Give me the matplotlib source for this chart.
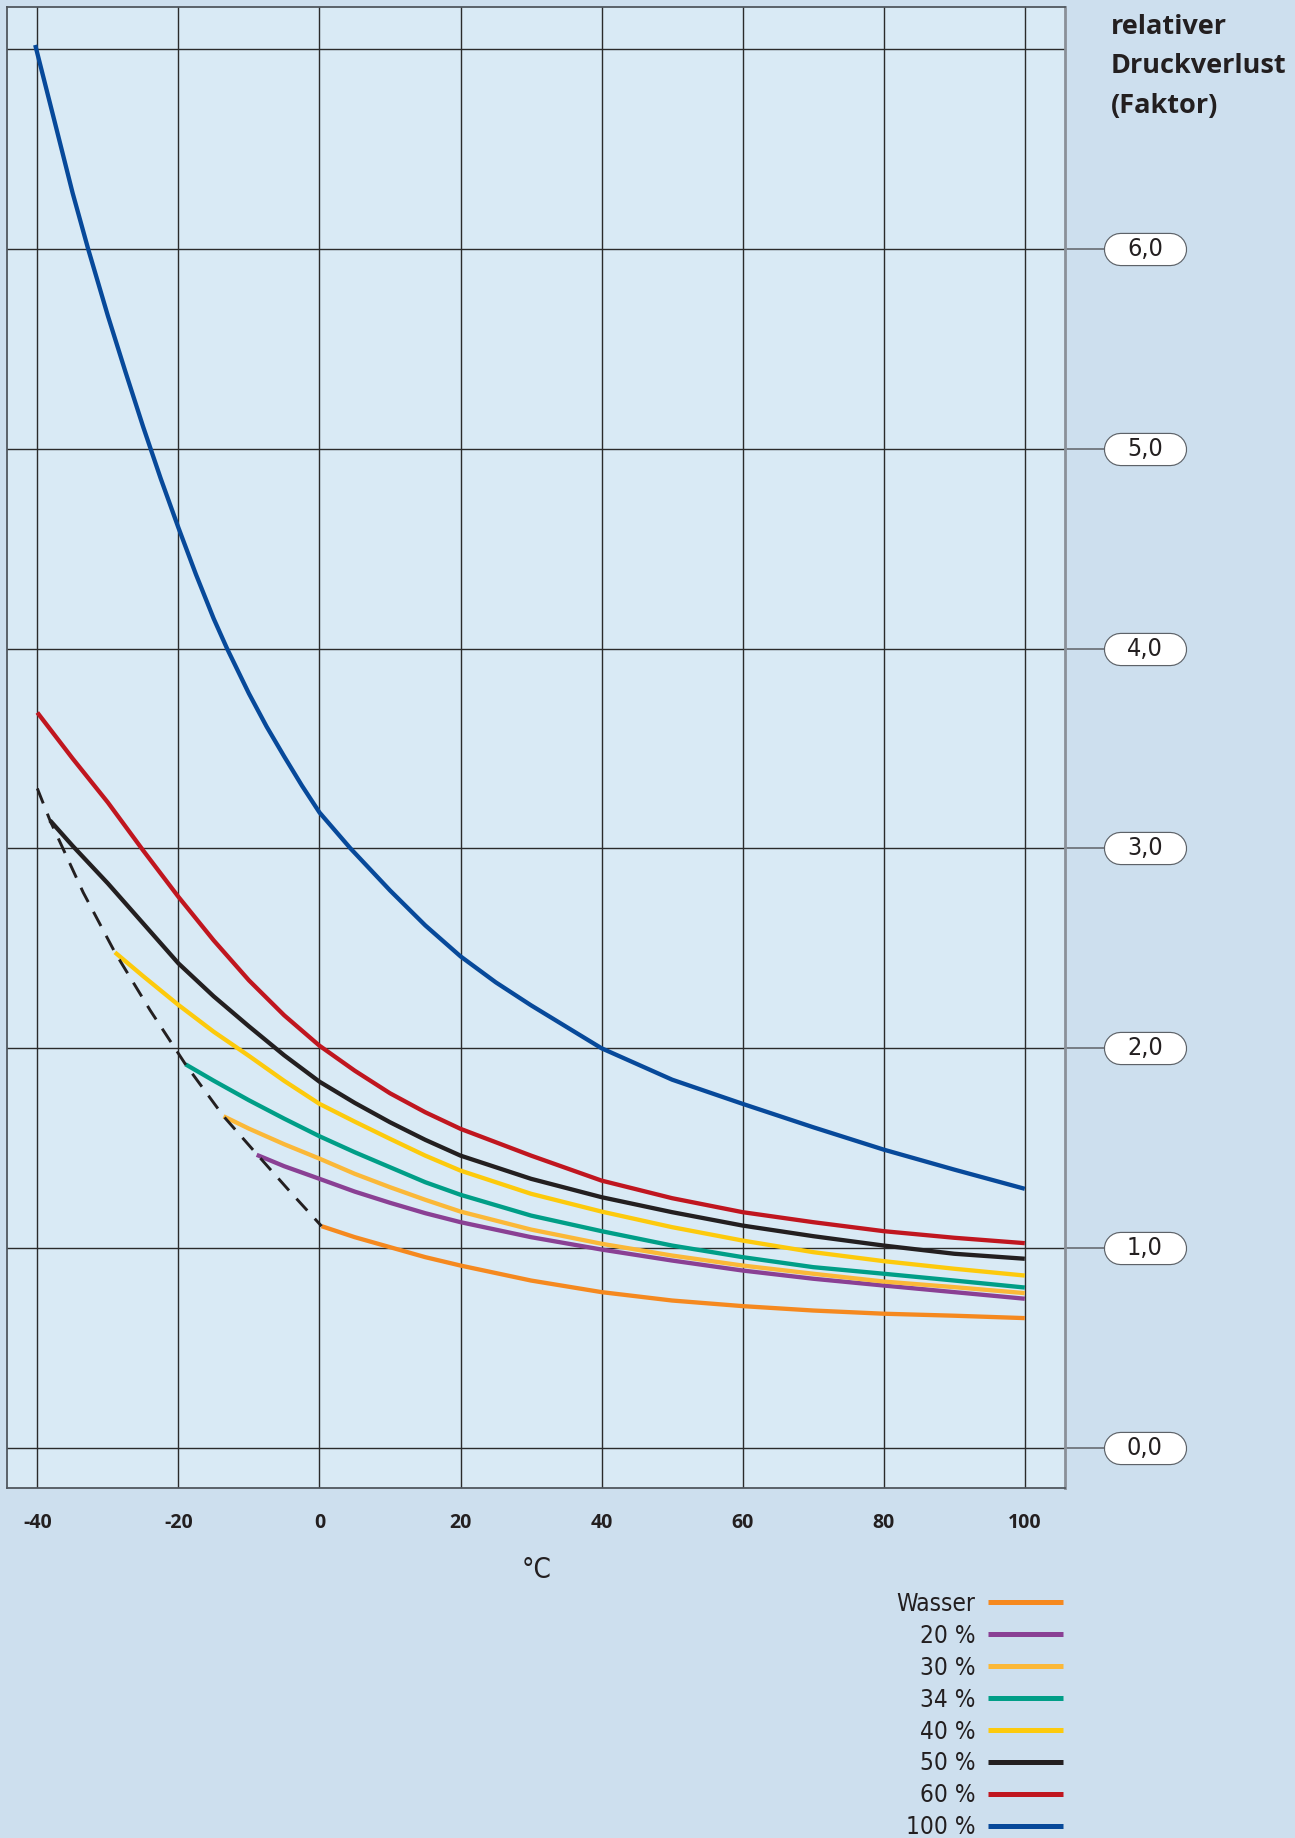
import matplotlib
matplotlib.use("Agg")
import matplotlib.pyplot as plt
import matplotlib.patheffects as pe
from matplotlib import font_manager
from matplotlib.transforms import blended_transform_factory

# --- data (temperature in degC, relative pressure loss factor) ---
x_wasser = [0.3, 5, 10, 15, 20, 30, 40, 50, 60, 70, 80, 90, 100]
y_wasser = [1.11, 1.055, 1.005, 0.955, 0.913, 0.838, 0.78, 0.738, 0.71, 0.688, 0.672, 0.662, 0.65]

x_20 = [-8.9, -5, 0, 5, 10, 15, 20, 30, 40, 50, 60, 70, 80, 90, 100]
y_20 = [1.467, 1.41, 1.347, 1.283, 1.227, 1.175, 1.13, 1.055, 0.993, 0.938, 0.888, 0.847, 0.813, 0.78, 0.747]

x_30 = [-13.6, -10, -5, 0, 5, 10, 15, 20, 30, 40, 50, 60, 70, 80, 90, 100]
y_30 = [1.66, 1.598, 1.52, 1.448, 1.372, 1.305, 1.242, 1.183, 1.093, 1.022, 0.963, 0.913, 0.872, 0.833, 0.805, 0.775]

x_34 = [-19, -15, -10, -5, 0, 5, 10, 15, 20, 30, 40, 50, 60, 70, 80, 90, 100]
y_34 = [1.92, 1.838, 1.74, 1.648, 1.56, 1.48, 1.405, 1.33, 1.267, 1.163, 1.085, 1.013, 0.955, 0.905, 0.872, 0.838, 0.803]

x_40 = [-29, -25, -20, -15, -10, -5, 0, 5, 10, 15, 20, 30, 40, 50, 60, 70, 80, 90, 100]
y_40 = [2.48, 2.361, 2.217, 2.083, 1.962, 1.837, 1.722, 1.633, 1.547, 1.463, 1.388, 1.272, 1.183, 1.105, 1.038, 0.98, 0.935, 0.897, 0.863]

x_50 = [-38.2, -35, -30, -25, -20, -15, -10, -5, 0, 5, 10, 15, 20, 30, 40, 50, 60, 70, 80, 90, 100]
y_50 = [3.14, 3.013, 2.825, 2.625, 2.425, 2.26, 2.11, 1.965, 1.833, 1.727, 1.63, 1.542, 1.463, 1.347, 1.255, 1.18, 1.113, 1.06, 1.013, 0.972, 0.947]

x_60 = [-40, -35, -30, -25, -20, -15, -10, -5, 0, 5, 10, 15, 20, 30, 40, 50, 60, 70, 80, 90, 100]
y_60 = [3.68, 3.45, 3.23, 2.99, 2.758, 2.54, 2.34, 2.165, 2.013, 1.888, 1.775, 1.68, 1.597, 1.463, 1.338, 1.25, 1.18, 1.13, 1.085, 1.052, 1.025]

x_100 = [-40.3, -37.5, -35, -32.8, -30, -27.5, -25, -22.5, -20, -17.5, -15, -13.1, -10, -7.5, -5, -2.5, 0, 4.4,
         10, 15, 20, 25, 30, 40, 50, 60, 70, 80, 90, 100]
y_100 = [7.02, 6.63, 6.28, 6.0, 5.665, 5.384, 5.11, 4.85, 4.605, 4.37, 4.15, 4.0, 3.775, 3.61, 3.46, 3.315, 3.18, 3.0,
         2.79, 2.615, 2.46, 2.33, 2.215, 2.0, 1.843, 1.722, 1.605, 1.493, 1.393, 1.297]

# freezing limit (dashed)
x_frost = [-40, -38.2, -33.5, -29, -24, -19, -13.6, -8.8, -4.1, 0.3]
y_frost = [3.30, 3.14, 2.78, 2.48, 2.19, 1.92, 1.66, 1.467, 1.28, 1.11]

labels = ["Wasser", "20 %", "30 %", "34 %", "40 %", "50 %", "60 %", "100 %"]
colors = ["#f5891f", "#8a4094", "#fbb838", "#009e87", "#fdca0c", "#231f20", "#c0161f", "#07499a"]
series_x = [x_wasser, x_20, x_30, x_34, x_40, x_50, x_60, x_100]
series_y = [y_wasser, y_20, y_30, y_34, y_40, y_50, y_60, y_100]

x_ticks = [-40, -20, 0, 20, 40, 60, 80, 100]
y_ticks = [0, 1, 2, 3, 4, 5, 6]
y_ticklabels = ["0,0", "1,0", "2,0", "3,0", "4,0", "5,0", "6,0"]

# --- fonts ---
names = {f.name for f in font_manager.fontManager.ttflist}
cond = "Liberation Sans Narrow" if "Liberation Sans Narrow" in names else "DejaVu Sans"
main = "Open Sans" if "Open Sans" in names else "DejaVu Sans"
cond_kw = dict(family=cond, stretch="condensed")

fig = plt.figure(figsize=(12.95, 18.38), dpi=100, facecolor="#cddfee")
ax = fig.add_axes([7 / 1295, 1 - 1488 / 1838, 1058 / 1295, 1481 / 1838])
ax.set_facecolor("#d9eaf5")
ax.set_xlim(-44.3, 105.7)
ax.set_ylim(-0.2, 7.21)

ax.set_xticks(x_ticks)
ax.set_xticklabels([str(t) for t in x_ticks], family=main, fontweight="bold", fontsize=14, color="#231f20")
ax.set_yticks(list(range(8)))
ax.tick_params(axis="x", length=0, pad=18)
ax.tick_params(axis="y", length=0, labelleft=False)
ax.grid(True, color="#2b2b2b", lw=1.0, zorder=1)
ax.set_axisbelow(True)
for s in ["top", "left", "bottom"]:
    ax.spines[s].set_color("#50575e")
    ax.spines[s].set_linewidth(1.3)
ax.spines["right"].set_color("#8a9098")
ax.spines["right"].set_linewidth(2)

for xs, ys, c, lab in zip(series_x, series_y, colors, labels):
    ax.plot(xs, ys, color=c, lw=3.1, label=lab, solid_capstyle="butt", solid_joinstyle="round", zorder=3)
ax.plot(x_frost, y_frost, color="#231f20", lw=2.1, dashes=(5.5, 3.8), zorder=3)

# right-hand value pills
tr = blended_transform_factory(ax.transAxes, ax.transData)
for v, txt in zip(y_ticks, y_ticklabels):
    ax.plot([1.0, 1.04], [v, v], transform=tr, clip_on=False, color="#6f757c", lw=1.3)
    ax.plot([1.052, 1.099], [v, v], transform=tr, clip_on=False, color="white", lw=22.3,
            solid_capstyle="round",
            path_effects=[pe.Stroke(linewidth=24, foreground="#5d6268"), pe.Normal()])
    ax.text(1.0755, v, txt, transform=tr, ha="center", va="center", fontsize=18, color="#231f20", **cond_kw)

fig.text(1111 / 1295, 1 - 14 / 1838, "relativer\nDruckverlust\n(Faktor)", ha="left", va="top",
         family=main, fontweight="bold", fontsize=19.5, color="#231f20", linespacing=1.67)
fig.text(537 / 1295, 1 - 1570 / 1838, "°C", ha="center", va="center", fontsize=20, color="#231f20", **cond_kw)

leg = ax.legend(loc="upper right", bbox_to_anchor=(1063 / 1295, 1 - 1592 / 1838), bbox_transform=fig.transFigure,
                frameon=False, markerfirst=False, handlelength=3.1, handletextpad=0.5,
                labelspacing=0.325, borderpad=0, borderaxespad=0,
                prop=font_manager.FontProperties(size=17.5, **cond_kw))
for t in leg.get_texts():
    t.set_color("#231f20")
for h in leg.get_lines():
    h.set_linewidth(3.6)

fig.savefig("out.png", dpi=100, facecolor=fig.get_facecolor())
